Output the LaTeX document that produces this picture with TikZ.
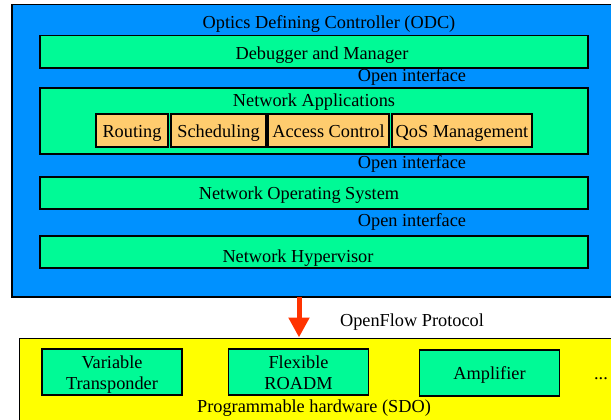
\documentclass[tikz,border=0pt]{standalone}
\usepackage{fontspec}
\setmainfont{Liberation Serif}
\usetikzlibrary{arrows.meta}
\definecolor{odcblue}{RGB}{0,145,255}
\definecolor{boxgreen}{RGB}{0,250,150}
\definecolor{apporange}{RGB}{255,204,110}
\definecolor{hwyellow}{RGB}{255,255,0}
\definecolor{flowred}{RGB}{255,51,0}
\begin{document}
\begin{tikzpicture}[x=1pt,y=-1pt,
  every node/.style={font=\fontsize{18.3}{21}\selectfont, inner sep=0pt, outer sep=0pt},
  layer/.style={draw=black, line width=1.5pt, fill=boxgreen, minimum width=548pt},
  appbox/.style={draw=black, line width=1.5pt, fill=apporange, minimum height=33pt, text height=13pt, text depth=0pt},
  hwbox/.style={draw=black, line width=1.5pt, fill=boxgreen, minimum height=46pt, minimum width=140pt},
  lbl/.style={anchor=base},
  flow/.style={draw=flowred, line width=5pt, -{Triangle[width=20pt,length=20pt]}}
]
\useasboundingbox (0,0) rectangle (611,420);
\clip (0,0) rectangle (611,420);
% controller
\node[draw=black, line width=1.5pt, fill=odcblue, minimum width=636pt, minimum height=292.5pt, anchor=north west] (odc) at (12,4.5) {};
\node[lbl] (odct) at (329,28.3) {Optics Defining Controller (ODC)};
\node[layer, minimum height=32.5pt] (dbg) at (314,51.75) {};
\node[lbl] (dbgt) at (322,59.3) {Debugger and Manager};
\node[lbl] (oi1) at (412,81.7) {Open interface};
\node[layer, minimum height=66pt] (na) at (314,121) {};
\node[lbl] (nat) at (314,106.5) {Network Applications};
\node[appbox, minimum width=72pt] (rt) at (132,130.5) {Routing};
\node[appbox, minimum width=95pt] (sch) at (218.5,130.5) {Scheduling};
\node[appbox, minimum width=121pt] (ac) at (328.5,130.5) {Access Control};
\node[appbox, minimum width=140pt] (qos) at (462,130.5) {QoS Management};
\node[lbl] (oi2) at (412,168.3) {Open interface};
\node[layer, minimum height=32pt] (nos) at (314,193) {};
\node[lbl] (nost) at (299,199.3) {Network Operating System};
\node[lbl] (oi3) at (412,226) {Open interface};
\node[layer, minimum height=32pt] (hyp) at (314,252) {};
\node[lbl] (hypt) at (298,262.3) {Network Hypervisor};
% hardware
\node[draw=black, line width=1.5pt, fill=hwyellow, minimum width=640pt, minimum height=120pt, anchor=north west] (sdo) at (19.5,338.5) {};
\node[hwbox] (vt) at (112,372) {};
\node[lbl] (vt1) at (112,368.3) {Variable};
\node[lbl] (vt2) at (112,389) {Transponder};
\node[hwbox] (roadm) at (298.5,372) {};
\node[lbl] (ro1) at (298.5,368.3) {Flexible};
\node[lbl] (ro2) at (298.5,389) {ROADM};
\node[hwbox, text height=12pt, text depth=0pt] (amp) at (489.5,373) {Amplifier};
\node[lbl] (dots) at (601,379) {...};
\node[lbl] (sdot) at (314,412.5) {Programmable hardware (SDO)};
% protocol
\coordinate (ax) at (299,0);
\draw[flow] (odc.south -| ax) -- ([yshift=1pt]sdo.north -| ax);
\node[lbl] (oft) at (412,326.7) {OpenFlow Protocol};
\end{tikzpicture}
\end{document}
